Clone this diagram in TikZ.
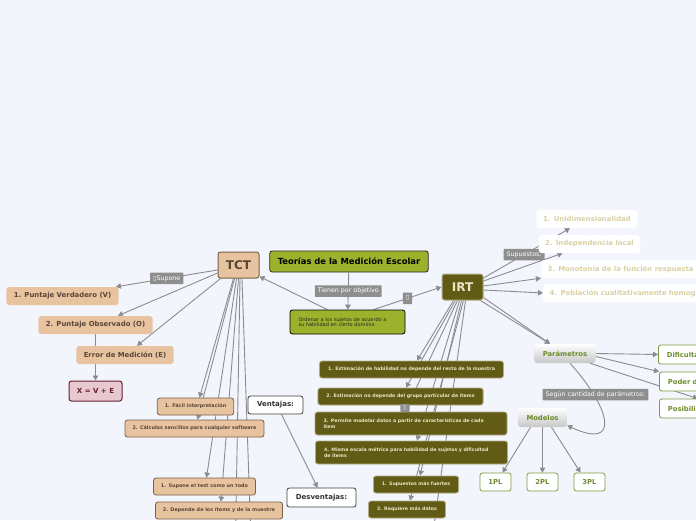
\documentclass[tikz,border=0pt]{standalone}
\usepackage{fontspec}
\setmainfont{DejaVu Sans}
\usepackage{tikz}
\usetikzlibrary{arrows.meta}
\definecolor{cBg}{HTML}{F3F5FC}
\definecolor{cEdge}{HTML}{8C8C90}
\definecolor{cLabel}{HTML}{8E8E8E}
\definecolor{cRoot}{HTML}{9CB22C}
\definecolor{cTan}{HTML}{E7C3A0}
\definecolor{cTanD}{HTML}{7B604A}
\definecolor{cTanT}{HTML}{5A4636}
\definecolor{cEq}{HTML}{E8C9D0}
\definecolor{cEqD}{HTML}{6A1D30}
\definecolor{cOlive}{HTML}{615B15}
\definecolor{cOliveB}{HTML}{B0AC86}
\definecolor{cOliveT}{HTML}{EAE6C6}
\definecolor{cSupT}{HTML}{D9D1A3}
\definecolor{cGreen}{HTML}{6E8C2E}
\definecolor{cGreenB}{HTML}{7E9C44}
\newcommand{\fsz}[1]{\fontsize{#1}{#1}\selectfont}
\pgfdeclarelayer{paper}
\pgfdeclarelayer{links}
\pgfsetlayers{paper,links,main}
\tikzset{
  edge/.style   ={-{Triangle[length=5pt,width=5.5pt]}, line width=0.9pt, draw=cEdge},
  lbl/.style    ={fill=cLabel, text=white, font=\fsz{6.3}, inner xsep=3pt, inner ysep=1.5pt,
                  minimum height=11.5pt, rounded corners=0.6pt},
  root/.style   ={draw=black!85, fill=cRoot, rounded corners=2.5pt, line width=0.8pt,
                  font=\fsz{8.4}\bfseries, minimum height=21pt, inner xsep=8pt},
  goal/.style   ={draw=black, fill=cRoot, rounded corners=2.5pt, line width=0.8pt, text=black!85,
                  font=\fsz{5}, align=left, text width=98pt, minimum height=24pt, inner xsep=8.5pt},
  tct/.style    ={draw=cTanD, fill=cTan, rounded corners=2.5pt, line width=1pt, text=cTanT,
                  font=\fsz{12}\bfseries, minimum height=26pt, minimum width=41pt},
  irt/.style    ={draw=cOliveB, fill=cOlive, rounded corners=2.5pt, line width=1pt, text=cOliveT,
                  font=\fsz{12}\bfseries, minimum height=26pt, minimum width=41pt},
  tanbox/.style ={fill=cTan, rounded corners=3pt, text=cTanT, font=\fsz{6.9}\bfseries,
                  minimum height=18pt, inner xsep=7.5pt},
  tansub/.style ={draw=cTanD, fill=cTan, rounded corners=2.5pt, line width=0.8pt, text=cTanT,
                  font=\fsz{4.9}\bfseries, minimum height=17pt, inner xsep=7.5pt},
  eqbox/.style  ={draw=cEqD, fill=cEq, rounded corners=2.5pt, line width=1pt, text=cEqD,
                  font=\fsz{7}\bfseries, minimum height=20pt, minimum width=53pt},
  side/.style   ={draw=black!75, fill=white, rounded corners=2.5pt, line width=0.8pt, text=black!80,
                  font=\fsz{7}\bfseries, minimum height=18pt, inner xsep=9pt},
  supbox/.style ={fill=white, rounded corners=3pt, text=cSupT, font=\fsz{6.9}\bfseries,
                  minimum height=18pt, inner xsep=6.5pt},
  olive/.style  ={draw=cOliveB, fill=cOlive, rounded corners=2.5pt, line width=0.8pt, text=cOliveT,
                  font=\fsz{4.7}\bfseries, minimum height=17pt, inner xsep=8.5pt},
  olive2/.style ={olive, align=left, text width=175pt, minimum height=23pt},
  grad/.style   ={top color=white, bottom color=black!22, rounded corners=3pt, text=cGreen,
                  font=\fsz{6.8}\bfseries, minimum height=19pt, inner xsep=8.5pt},
  green/.style  ={draw=cGreenB, fill=white, rounded corners=2.5pt, line width=0.8pt, text=cGreen,
                  font=\fsz{6.8}\bfseries, minimum height=18pt, inner xsep=8.5pt},
  cut/.style    ={green, anchor=west, align=left, text width=60pt, minimum height=19pt},
}
\begin{document}
\begin{tikzpicture}[x=1pt, y=-1pt]
  \path[use as bounding box] (0,0) rectangle (696,520);
  \begin{pgfonlayer}{paper}
    \fill[cBg] (0,0) rectangle (696,520);
  \end{pgfonlayer}
  \clip (0,0) rectangle (696,520);
  % centre
  \node[root] (root) at (349,261.5) {Teorías de la Medición Escolar};
  \node[goal] (goal) at (347.5,322) {Ordenar a los sujetos de acuerdo a\\su habilidad en cierto dominio};
  \node[tct] (tct) at (238.5,265) {TCT};
  \node[irt] (irt) at (462.5,287) {IRT};
  % TCT branch
  \node[tanbox] (ver) at (62.5,296) {1. Puntaje Verdadero (V)};
  \node[tanbox] (obs) at (95.5,325) {2. Puntaje Observado (O)};
  \node[tanbox] (err) at (125,355) {Error de Medición (E)};
  \node[eqbox]  (eq)  at (95.5,391) {X = V + E};
  \node[tansub] (fac) at (195.5,406.5) {1. Fácil interpretación};
  \node[tansub] (cal) at (194.5,428.5) {2. Cálculos sencillos para cualquier software};
  \node[tansub] (tod) at (204.5,486.5) {1. Supone el test como un todo};
  \node[tansub] (dep) at (219,510.5) {2. Depende de los ítems y de la muestra};
  \node[side] (vent) at (275.5,405) {Ventajas:};
  \node[side, minimum height=19pt] (desv) at (321.5,497.5) {Desventajas:};
  \coordinate (tctA) at (235.5,540);
  \coordinate (tctB) at (251,540);
  % IRT branch
  \node[supbox] (s1) at (587,219) {1. Unidimensionalidad};
  \node[supbox] (s2) at (589.5,244) {2. Independencia local};
  \node[supbox, anchor=west] (s3) at (541,269) {3. Monotonía de la función respuesta};
  \node[supbox, anchor=west, align=left, text width=170pt] (s4) at (543,293) {4. Población cualitativamente homog};
  \node[grad] (par) at (565,353.5) {Parámetros};
  \node[cut] (dif) at (658,354.5) {Dificulta};
  \node[cut] (pod) at (659,381.5) {Poder d};
  \node[cut] (pos) at (659,408.5) {Posibili};
  \node[grad] (mod) at (542.5,417.5) {Modelos};
  \node[lbl] (lSeg) at (595.5,394.5) {Según cantidad de parámetros:};
  \node[green] (p1) at (495.5,482) {1PL};
  \node[green] (p2) at (542.5,482) {2PL};
  \node[green] (p3) at (589.5,482) {3PL};
  \node[olive] (e1) at (411.5,369.5) {1. Estimación de habilidad no depende del resto de la muestra};
  \node[olive] (e2) at (400.5,396.5) {2. Estimación no depende del grupo particular de ítems};
  \node[olive2] (e3) at (411,423.5) {3. Permite modelar datos a partir de características de cada\\ítem};
  \node[olive2] (e4) at (411.5,452.5) {4. Misma escala métrica para habilidad de sujetos y dificultad\\de ítems};
  \node[olive] (f1) at (416,484.5) {1. Supuestos más fuertes};
  \node[olive] (f2) at (407,509.5) {2. Requiere más datos};
  \node[lbl, minimum height=8pt, inner ysep=0pt, font=\fsz{5.5}] (lE3) at (405,408) {▯};
  \coordinate (irtA) at (432,540);
  % connectors
  \begin{pgfonlayer}{links}
    \clip (0,0) rectangle (696,520);
    \draw[edge] (root) -- node[lbl] (lObj) {Tienen por objetivo} (goal);
    \draw[edge] ([xshift=-20pt]goal.north) -- ([yshift=2pt]tct.south east);
    \draw[edge] ([xshift=26pt]goal.north) -- node[lbl] (lIrt) {▯} (irt.west);
    \draw[edge] ([yshift=-5pt]tct.west) -- node[lbl] (lSup) {▯Supone} ([xshift=-3pt]ver.north east);
    \draw[edge] ([yshift=-8pt]tct.west) -- ([xshift=-35pt]obs.north east);
    \draw[edge] ([xshift=3pt]tct.south west) -- ([xshift=12pt]err.north);
    \draw[edge] (obs) -- (eq);
    \draw[edge] ([xshift=-5pt]tct.south) -- ([xshift=4pt]fac.north);
    \draw[edge] ([xshift=-4pt]tct.south) -- ([xshift=3pt]cal.north);
    \draw[edge] ([xshift=-2pt]tct.south) -- ([xshift=2pt]tod.north);
    \draw[edge] (tct.south) -- ([xshift=2pt]dep.north);
    \draw[edge] ([xshift=1.5pt]tct.south) -- (tctA);
    \draw[edge] ([xshift=3.5pt]tct.south) -- (tctB);
    \draw[edge] ([xshift=6pt]vent.south) -- ([xshift=-4pt]desv.north);
    \draw[edge] ([yshift=9pt]irt.east) -- node[lbl, pos=0.47] (lSupu) {Supuestos:} ([xshift=-17pt]s1.south);
    \draw[edge] ([yshift=6pt]irt.east) -- ([xshift=-27pt]s2.south);
    \draw[edge] ([yshift=1pt]irt.east) -- (s3.south west);
    \draw[edge] ([yshift=-3pt]irt.east) -- (s4.west);
    \draw[edge] ([yshift=3pt]irt.south east) -- ([xshift=-15pt]par.north);
    \draw[edge] ([xshift=-3pt]irt.south east) -- ([xshift=-15pt]par.north);
    \draw[edge] (par.east) -- (dif.west);
    \draw[edge] ([yshift=-3pt]par.east) -- (pod.north west);
    \draw[edge] ([xshift=-6pt]par.south east) -- (pos.north);
    \draw[edge] ([xshift=5pt]par.south) .. controls (612,410) and (620,450) .. ([yshift=-8pt]mod.east);
    \draw[edge] ([xshift=-12pt]mod.south) -- ([xshift=7pt]p1.north);
    \draw[edge] (mod.south) -- (p2.north);
    \draw[edge] ([xshift=9pt]mod.south) -- ([xshift=-9pt]p3.north);
    \draw[edge] ([xshift=-9pt]irt.south) -- ([xshift=5.5pt]e1.north);
    \draw[edge] ([xshift=-7pt]irt.south) -- ([xshift=5.5pt]e2.north);
    \draw[edge] ([xshift=-5pt]irt.south) -- ([xshift=-6pt]e3.north);
    \draw[edge] ([xshift=-3pt]irt.south) -- ([xshift=5.5pt]e4.north);
    \draw[edge] ([xshift=-1pt]irt.south) -- ([xshift=4pt]f1.north);
    \draw[edge] ([xshift=1pt]irt.south) -- ([xshift=3pt]f2.north);
    \draw[edge] ([xshift=3pt]irt.south) -- (irtA);
  \end{pgfonlayer}
\end{tikzpicture}
\end{document}
